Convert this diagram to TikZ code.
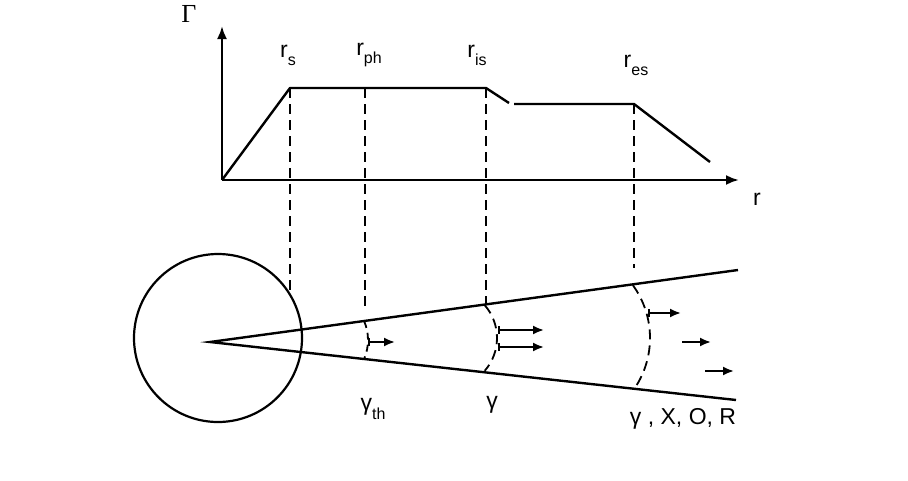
\documentclass[tikz,border=0pt]{standalone}
\usepackage{fontspec}
\setmainfont{Liberation Sans}
\newfontfamily\serifgamma{Liberation Serif}
\usetikzlibrary{arrows.meta}
\newcommand\lowsub[1]{\raisebox{-0.35em}{\fontsize{16}{16}\selectfont #1}}
\tikzset{
  px/.style={x=1pt,y=-1pt},
  curve/.style={line width=2.4pt},
  guide/.style={line width=1.8pt, dash pattern=on 10pt off 6pt},
  axis/.style={line width=2.4pt, -{Latex[length=13pt,width=10pt]}},
  flow/.style={line width=2pt, -{Latex[length=11pt,width=9pt]}},
  flowbar/.style={line width=2pt, {Bar[width=8pt,line width=2pt]}-{Latex[length=11pt,width=9pt]}},
  lbl/.style={inner sep=0pt, font=\fontsize{23}{26}\selectfont}
}
\begin{document}
\begin{tikzpicture}[px]
\useasboundingbox (0,0) rectangle (908,480);
% axes
\coordinate (O) at (222,180);
\coordinate (Ytip) at (222,26);
\coordinate (Xtip) at (739,180);
\draw[axis] (O) -- (Ytip);
\draw[axis] (O) -- (Xtip);
\node[lbl, font=\serifgamma\fontsize{26}{26}\selectfont] (G) at (189,14) {Γ};
\node[lbl] (rr) at (757,199) {r};
% curve
\coordinate (ps) at (290,88);
\coordinate (pph) at (365,88);
\coordinate (pis) at (486,88);
\coordinate (pbreak) at (509,103);
\coordinate (pstart) at (514,104);
\coordinate (pes) at (634,104);
\coordinate (pend) at (710,162);
\draw[curve, line join=round] (O) -- (ps) -- (pis) -- (pbreak);
\draw[curve, line join=round] (pstart) -- (pes) -- (pend);
% labels
\node[lbl] (ls) at (288,55) {r\lowsub{s}};
\node[lbl] (lph) at (369,55) {r\lowsub{ph}};
\node[lbl] (lis) at (477,55) {r\lowsub{is}};
\node[lbl] (les) at (636,65) {r\lowsub{es}};
% guides
\coordinate (gs) at (290,292);
\coordinate (gph) at (365,308);
\coordinate (gis) at (486,304);
\coordinate (ges) at (634,268);
\draw[guide] (ps) -- (gs);
\draw[guide] (pph) -- (gph);
\draw[guide] (pis) -- (gis);
\draw[guide] (pes) -- (ges);
% star and cone
\coordinate (apex) at (210,342);
\node[draw, circle, line width=2.2pt, minimum size=168pt, inner sep=0pt] (star) at (218,338) {};
\coordinate (up) at (738,270);
\coordinate (lo) at (736,400);
\draw[curve, line join=miter] (up) -- (apex) -- (lo);
% shells (circular arcs)
\coordinate (c1) at (320,340);
\coordinate (c2) at (447,338);
\coordinate (c3) at (560,338);
\draw[guide, dash pattern=on 7pt off 5pt] ([shift={(-23:48)}]c1) arc[start angle=-23, end angle=22, radius=48];
\draw[guide] ([shift={(-41:50)}]c2) arc[start angle=-41, end angle=41, radius=50];
\draw[guide] ([shift={(-36:90)}]c3) arc[start angle=-36, end angle=34, radius=90];
% flow arrows
\coordinate (a1s) at (368,342); \coordinate (a1e) at (395,342);
\draw[flowbar] (a1s) -- (a1e);
\coordinate (a2s) at (498,330); \coordinate (a2e) at (544,330);
\draw[flowbar] (a2s) -- (a2e);
\coordinate (a3s) at (498,347); \coordinate (a3e) at (544,347);
\draw[flowbar] (a3s) -- (a3e);
\coordinate (a4s) at (648,313); \coordinate (a4e) at (681,313);
\draw[flowbar] (a4s) -- (a4e);
\coordinate (a5s) at (682,342); \coordinate (a5e) at (711,342);
\draw[flow] (a5s) -- (a5e);
\coordinate (a6s) at (705,371); \coordinate (a6e) at (734,371);
\draw[flow] (a6s) -- (a6e);
% bottom labels
\node[lbl] (gth) at (373,409) {γ\lowsub{th}};
\node[lbl] (gg) at (492,405) {γ};
\node[lbl] (gall) at (683,419) {γ , X, O, R};
\end{tikzpicture}
\end{document}
